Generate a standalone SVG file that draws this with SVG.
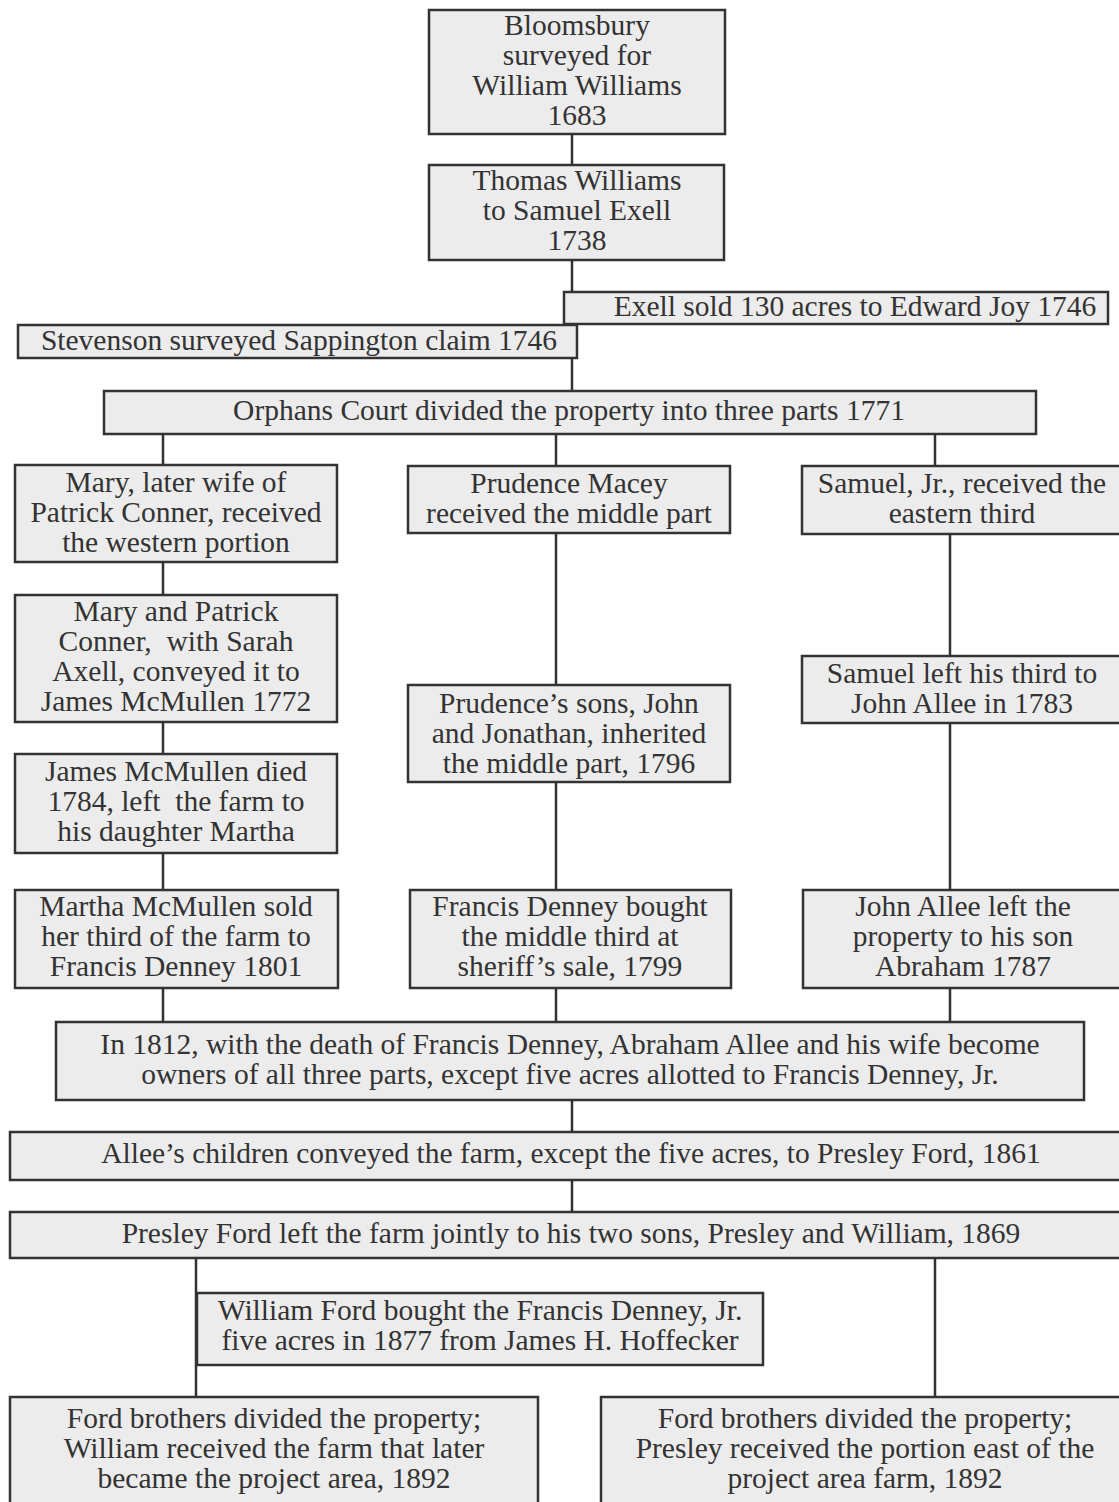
<svg xmlns="http://www.w3.org/2000/svg" width="1119" height="1502" viewBox="0 0 1119 1502">
<style>
.b{fill:#ececec;stroke:#333;stroke-width:2.5}
.t{font-family:"Liberation Serif","Times New Roman",serif;font-size:29.5px;fill:#333;text-anchor:middle}
.c{stroke:#333;stroke-width:2.5;fill:none}
</style>
<rect width="1119" height="1502" fill="#fff"/>
<g id="connectors">
<path class="c" d="M572 134V165M572 260V292M572 358V391M163 434V465M556 434V466M935 434V466M163 562V595M556 533V685M950 534V656M163 722V754M556 782V890M950 723V890M163 853V890M163 988V1022M556 988V1022M950 988V1022M572 1100V1132M572 1180V1212M196 1258V1397M935 1258V1397"/>
</g>
<g id="n1"><rect class="b" x="429" y="10" width="296" height="124"/><text class="t"><tspan x="577" y="35">Bloomsbury</tspan><tspan x="577" y="65">surveyed for</tspan><tspan x="577" y="95">William Williams</tspan><tspan x="577" y="125">1683</tspan></text></g>
<g id="n2"><rect class="b" x="429" y="165" width="295" height="95"/><text class="t"><tspan x="577" y="190">Thomas Williams</tspan><tspan x="577" y="220">to Samuel Exell</tspan><tspan x="577" y="250">1738</tspan></text></g>
<g id="n3"><rect class="b" x="564" y="292" width="544" height="32"/><text class="t" x="855" y="316">Exell sold 130 acres to Edward Joy 1746</text></g>
<g id="n4"><rect class="b" x="18" y="325" width="559" height="33"/><text class="t" x="299" y="350">Stevenson surveyed Sappington claim 1746</text></g>
<g id="n5"><rect class="b" x="104" y="391" width="932" height="43"/><text class="t" x="569" y="420">Orphans Court divided the property into three parts 1771</text></g>
<g id="n6"><rect class="b" x="15" y="465" width="322" height="97"/><text class="t"><tspan x="176" y="492">Mary, later wife of</tspan><tspan x="176" y="522">Patrick Conner, received</tspan><tspan x="176" y="552">the western portion</tspan></text></g>
<g id="n7"><rect class="b" x="408" y="466" width="322" height="67"/><text class="t"><tspan x="569" y="493">Prudence Macey</tspan><tspan x="569" y="523">received the middle part</tspan></text></g>
<g id="n8"><rect class="b" x="802" y="466" width="330" height="68"/><text class="t"><tspan x="962" y="493">Samuel, Jr., received the</tspan><tspan x="962" y="523">eastern third</tspan></text></g>
<g id="n9"><rect class="b" x="15" y="595" width="322" height="127"/><text class="t"><tspan x="176" y="621">Mary and Patrick</tspan><tspan x="176" y="651">Conner, &#160;with Sarah</tspan><tspan x="176" y="681">Axell, conveyed it to</tspan><tspan x="176" y="711">James McMullen 1772</tspan></text></g>
<g id="n10"><rect class="b" x="408" y="685" width="322" height="97"/><text class="t"><tspan x="569" y="713">Prudence’s sons, John</tspan><tspan x="569" y="743">and Jonathan, inherited</tspan><tspan x="569" y="773">the middle part, 1796</tspan></text></g>
<g id="n11"><rect class="b" x="802" y="656" width="330" height="67"/><text class="t"><tspan x="962" y="683">Samuel left his third to</tspan><tspan x="962" y="713">John Allee in 1783</tspan></text></g>
<g id="n12"><rect class="b" x="15" y="754" width="322" height="99"/><text class="t"><tspan x="176" y="781">James McMullen died</tspan><tspan x="176" y="811">1784, left &#160;the farm to</tspan><tspan x="176" y="841">his daughter Martha</tspan></text></g>
<g id="n13"><rect class="b" x="15" y="890" width="323" height="98"/><text class="t"><tspan x="176" y="916">Martha McMullen sold</tspan><tspan x="176" y="946">her third of the farm to</tspan><tspan x="176" y="976">Francis Denney 1801</tspan></text></g>
<g id="n14"><rect class="b" x="410" y="890" width="321" height="98"/><text class="t"><tspan x="570" y="916">Francis Denney bought</tspan><tspan x="570" y="946">the middle third at</tspan><tspan x="570" y="976">sheriff’s sale, 1799</tspan></text></g>
<g id="n15"><rect class="b" x="803" y="890" width="330" height="98"/><text class="t"><tspan x="963" y="916">John Allee left the</tspan><tspan x="963" y="946">property to his son</tspan><tspan x="963" y="976">Abraham 1787</tspan></text></g>
<g id="n16"><rect class="b" x="56" y="1022" width="1028" height="78"/><text class="t"><tspan x="570" y="1054">In 1812, with the death of Francis Denney, Abraham Allee and his wife become</tspan><tspan x="570" y="1084">owners of all three parts, except five acres allotted to Francis Denney, Jr.</tspan></text></g>
<g id="n17"><rect class="b" x="10" y="1132" width="1120" height="48"/><text class="t" x="571" y="1163">Allee’s children conveyed the farm, except the five acres, to Presley Ford, 1861</text></g>
<g id="n18"><rect class="b" x="10" y="1212" width="1120" height="46"/><text class="t" x="571" y="1243">Presley Ford left the farm jointly to his two sons, Presley and William, 1869</text></g>
<g id="n19"><rect class="b" x="197" y="1293" width="566" height="72"/><text class="t"><tspan x="480" y="1320">William Ford bought the Francis Denney, Jr.</tspan><tspan x="480" y="1350">five acres in 1877 from James H. Hoffecker</tspan></text></g>
<g id="n20"><rect class="b" x="10" y="1397" width="528" height="120"/><text class="t"><tspan x="274" y="1428">Ford brothers divided the property;</tspan><tspan x="274" y="1458">William received the farm that later</tspan><tspan x="274" y="1488">became the project area, 1892</tspan></text></g>
<g id="n21"><rect class="b" x="601" y="1397" width="530" height="120"/><text class="t"><tspan x="865" y="1428">Ford brothers divided the property;</tspan><tspan x="865" y="1458">Presley received the portion east of the</tspan><tspan x="865" y="1488">project area farm, 1892</tspan></text></g>
</svg>
